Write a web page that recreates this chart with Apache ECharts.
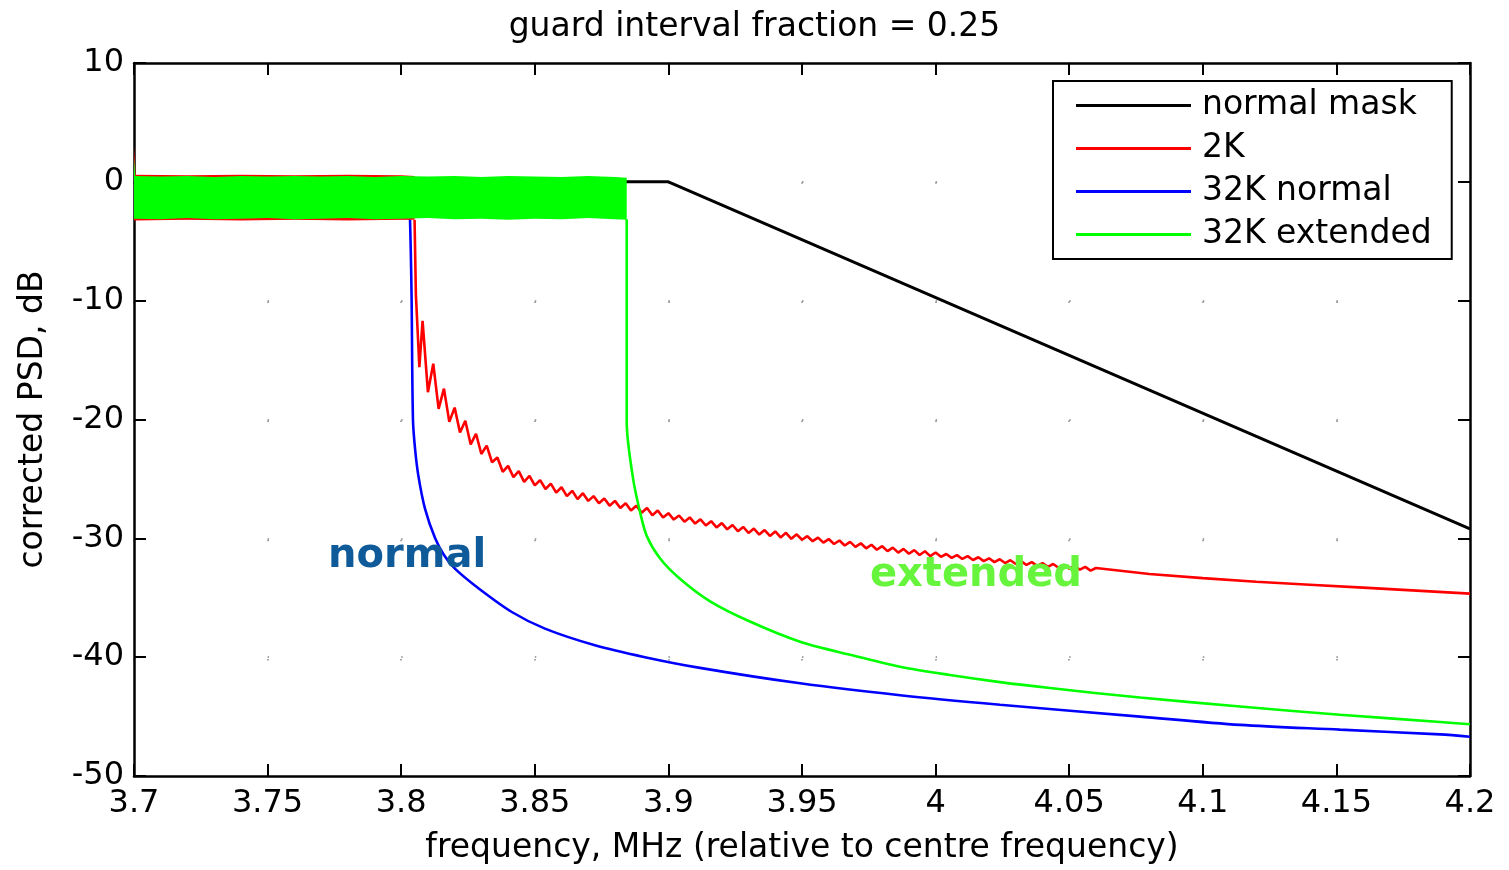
<!DOCTYPE html>
<html>
<head>
<meta charset="utf-8">
<title>guard interval fraction = 0.25</title>
<script src="https://cdn.jsdelivr.net/npm/echarts@6/dist/echarts.min.js"></script>
<style>
  html, body { margin: 0; padding: 0; background: #fff; }
  #chart { width: 1509px; height: 870px; }
</style>
</head>
<body>
<div id="chart"></div>
<script>
// axes
var xMin = 3.7, xMax = 4.2, xStep = 0.05;
var yMin = -50, yMax = 10, yStep = 10;

var seriesNames = ['normal mask', '2K', '32K normal', '32K extended'];
var seriesColors = ['#000000', '#ff0000', '#0000ff', '#00ff00'];

// spectrum mask
var maskLine = [[3.7, 0], [3.9, 0], [4.2, -29.2]];

// passband envelopes (the in-band ripple is too dense to see single cycles)
var greenBandFreq  = [3.7, 3.7005, 3.71, 3.72, 3.73, 3.74, 3.75, 3.76, 3.77, 3.78, 3.79, 3.80, 3.81, 3.82, 3.83, 3.84, 3.85, 3.86, 3.87, 3.88, 3.8844];
var greenBandUpper = [2.0, 0.5, 0.45, 0.5, 0.4, 0.5, 0.45, 0.5, 0.45, 0.5, 0.4, 0.5, 0.45, 0.5, 0.4, 0.5, 0.45, 0.4, 0.5, 0.4, 0.35];
var greenBandLower = [-3.1, -3.1, -3.15, -3.05, -3.15, -3.1, -3.05, -3.15, -3.1, -3.05, -3.15, -3.1, -3.05, -3.15, -3.1, -3.2, -3.1, -3.15, -3.05, -3.15, -3.2];

var redBandFreq  = [3.7, 3.7006, 3.72, 3.74, 3.76, 3.78, 3.80, 3.805];
var redBandUpper = [3.0, 0.6, 0.55, 0.6, 0.55, 0.6, 0.55, 0.5];
var redBandLower = [-3.25, -3.25, -3.2, -3.25, -3.2, -3.25, -3.2, -3.2];

var blueBandFreq  = [3.7, 3.72, 3.74, 3.76, 3.78, 3.80, 3.8033];
var blueBandUpper = [0.45, 0.45, 0.45, 0.45, 0.45, 0.45, 0.45];
var blueBandLower = [-3.15, -3.15, -3.15, -3.15, -3.15, -3.15, -3.15];

// out-of-band roll-off
var redCurve = [
  [3.8050, -3.2], [3.8055, -9.5], [3.8068, -15.6],
  [3.808, -11.7], [3.810, -17.7], [3.812, -15.3], [3.814, -19.1], [3.816, -17.4], [3.818, -20.2],
  [3.820, -19.0], [3.822, -21.1], [3.824, -20.1], [3.826, -22.1], [3.828, -21.2], [3.830, -22.9],
  [3.832, -22.2], [3.834, -23.6], [3.836, -23.2], [3.838, -24.4], [3.840, -23.9], [3.842, -24.85],
  [3.844, -24.35], [3.846, -25.25], [3.848, -24.75], [3.850, -25.55], [3.852, -25.1], [3.854, -25.85],
  [3.856, -25.4], [3.858, -26.15], [3.860, -25.7], [3.862, -26.45], [3.864, -26.0], [3.866, -26.7],
  [3.868, -26.2], [3.870, -26.85], [3.872, -26.45], [3.874, -27.05], [3.876, -26.65], [3.878, -27.25],
  [3.880, -26.85], [3.882, -27.45], [3.884, -27.05], [3.886, -27.65], [3.888, -27.25], [3.890, -27.85],
  [3.892, -27.45], [3.894, -28.05], [3.896, -27.65], [3.898, -28.25], [3.900, -27.88], [3.902, -28.42],
  [3.904, -28.08], [3.906, -28.6], [3.908, -28.24], [3.910, -28.76], [3.912, -28.4], [3.914, -28.92],
  [3.916, -28.56], [3.918, -29.08], [3.920, -28.72], [3.922, -29.24], [3.924, -28.88], [3.926, -29.4],
  [3.928, -29.04], [3.930, -29.55], [3.932, -29.18], [3.934, -29.68], [3.936, -29.3], [3.938, -29.8],
  [3.940, -29.42], [3.942, -29.92], [3.944, -29.54], [3.946, -30.04], [3.948, -29.66], [3.950, -30.12],
  [3.952, -29.82], [3.954, -30.24], [3.956, -29.94], [3.958, -30.36], [3.960, -30.06], [3.962, -30.48],
  [3.964, -30.18], [3.966, -30.6], [3.968, -30.3], [3.970, -30.72], [3.972, -30.42], [3.974, -30.84],
  [3.976, -30.54], [3.978, -30.96], [3.980, -30.66], [3.982, -31.08], [3.984, -30.78], [3.986, -31.2],
  [3.988, -30.89], [3.990, -31.3], [3.992, -30.99], [3.994, -31.4], [3.996, -31.09], [3.998, -31.5],
  [4.000, -31.19], [4.002, -31.555], [4.004, -31.32], [4.006, -31.645], [4.008, -31.41], [4.010, -31.735],
  [4.012, -31.5], [4.014, -31.825], [4.016, -31.59], [4.018, -31.915], [4.020, -31.68], [4.022, -32.0],
  [4.024, -31.76], [4.026, -32.08], [4.028, -31.84], [4.030, -32.16], [4.032, -31.92], [4.034, -32.24],
  [4.036, -32.0], [4.038, -32.32], [4.040, -32.08], [4.042, -32.4], [4.044, -32.16], [4.046, -32.48],
  [4.048, -32.24], [4.050, -32.56], [4.052, -32.32], [4.054, -32.64], [4.056, -32.4], [4.058, -32.72],
  [4.060, -32.5], [4.08, -33.0], [4.10, -33.35],
  [4.12, -33.65], [4.14, -33.9], [4.16, -34.15], [4.18, -34.4], [4.2, -34.65]
];

var blueCurve = [
  [3.8033, -3.15], [3.8036, -6.0], [3.8039, -9.9], [3.8044, -20.0], [3.8052, -22.5], [3.8064, -24.7],
  [3.8089, -27.5], [3.8127, -30.0], [3.8160, -31.4], [3.8201, -32.55], [3.8289, -34.2], [3.8414, -36.2],
  [3.8538, -37.6], [3.8725, -39.0], [3.8912, -40.0], [3.9118, -40.9], [3.9493, -42.2], [3.9867, -43.2],
  [4.0241, -44.0], [4.0765, -45.0], [4.1139, -45.7], [4.1513, -46.1], [4.1888, -46.5], [4.2, -46.7]
];

var greenCurve = [
  [3.8844, -3.15], [3.8844, -20.2], [3.8868, -25.0], [3.8894, -27.8], [3.8919, -29.8], [3.8969, -31.7],
  [3.9043, -33.4], [3.9156, -35.3], [3.9305, -37.0], [3.9493, -38.7], [3.9680, -39.8], [3.9867, -40.8],
  [4.0054, -41.5], [4.0241, -42.1], [4.0428, -42.6], [4.0765, -43.4], [4.1139, -44.15], [4.1513, -44.85],
  [4.1888, -45.45], [4.2, -45.65]
];

// annotation anchors (data coords)
var normalLabelAt = [3.8022, -31.5];
var extendedLabelAt = [4.0151, -33.1];

var FONT = "'DejaVu Sans', sans-serif";

var chart = echarts.init(document.getElementById('chart'));

// filled passband drawn as one polygon through the axes
function bandSeries(name, color, freq, upper, lower, z) {
  return {
    type: 'custom',
    name: name,
    silent: true,
    z: z,
    xAxisIndex: 0,
    yAxisIndex: 0,
    data: freq.map(function (f, i) { return [f, upper[i], lower[i]]; }),
    encode: { x: 0, y: [1, 2] },
    renderItem: function (params, api) {
      if (params.dataIndex !== 0) return null;
      var pts = [];
      for (var i = 0; i < freq.length; i++) pts.push(api.coord([freq[i], upper[i]]));
      for (var j = freq.length - 1; j >= 0; j--) pts.push(api.coord([freq[j], lower[j]]));
      return { type: 'polygon', shape: { points: pts }, style: { fill: color, stroke: null } };
    }
  };
}

function lineSeries(name, color, data, width, z, smooth) {
  return {
    type: 'line',
    name: name,
    data: data,
    z: z,
    symbol: 'none',
    smooth: smooth || false,
    xAxisIndex: 0,
    yAxisIndex: 0,
    color: color,
    lineStyle: { color: color, width: width },
    emphasis: { disabled: true },
    animation: false
  };
}

function annotation(text, color, at) {
  return {
    silent: true,
    z: 20,
    symbol: 'rect',
    symbolSize: 1,
    itemStyle: { color: 'rgba(0,0,0,0)' },
    label: {
      show: true, position: 'inside', formatter: text, color: color,
      fontSize: 40, fontWeight: 'bold', fontFamily: FONT
    },
    data: [{ coord: at }]
  };
}

var blue = lineSeries(seriesNames[2], seriesColors[2], blueCurve, 2.6, 3, 0.3);
blue.markPoint = annotation('normal', '#0f5a98', normalLabelAt);
var green = lineSeries(seriesNames[3], seriesColors[3], greenCurve, 2.6, 7, 0.3);
green.markPoint = annotation('extended', '#66f53c', extendedLabelAt);

var axisLineStyle = { color: '#000', width: 2.5 };
var tickStyle = { show: true, inside: true, length: 12, lineStyle: { color: '#000', width: 2 } };

function xAxis(pos, withLabels) {
  return {
    type: 'value', position: pos, min: xMin, max: xMax, interval: xStep,
    axisLine: { show: true, onZero: false, lineStyle: axisLineStyle },
    axisTick: tickStyle,
    axisLabel: { show: withLabels, color: '#000', fontSize: 32, fontFamily: FONT, margin: 12 },
    splitLine: { show: withLabels, lineStyle: { color: '#888', width: 1.5, type: [1.5, 117.7] } },
    name: withLabels ? 'frequency, MHz (relative to centre frequency)' : '',
    nameLocation: 'middle', nameGap: 56,
    nameTextStyle: { color: '#000', fontSize: 33, fontFamily: FONT }
  };
}

function yAxis(pos, withLabels) {
  return {
    type: 'value', position: pos, min: yMin, max: yMax, interval: yStep,
    axisLine: { show: true, onZero: false, lineStyle: axisLineStyle },
    axisTick: tickStyle,
    axisLabel: { show: withLabels, color: '#000', fontSize: 32, fontFamily: FONT, margin: 10 },
    splitLine: { show: withLabels, lineStyle: { color: '#888', width: 1.5, type: [1.5, 132.1] } },
    name: withLabels ? 'corrected PSD, dB' : '',
    nameLocation: 'middle', nameGap: 84,
    nameTextStyle: { color: '#000', fontSize: 33, fontFamily: FONT }
  };
}

var option = {
  animation: false,
  backgroundColor: '#fff',
  title: {
    text: 'guard interval fraction = 0.25',
    left: 'center', top: 6,
    textStyle: { color: '#000', fontSize: 33, fontWeight: 'normal', fontFamily: FONT }
  },
  grid: { left: 134, right: 39, top: 63, bottom: 92, show: false },
  legend: {
    orient: 'vertical',
    left: 1053, top: 81,
    data: seriesNames,
    icon: 'rect',
    padding: [8, 20, 8, 23],
    itemWidth: 115, itemHeight: 3, itemGap: 10,
    backgroundColor: '#fff', borderColor: '#000', borderWidth: 2, borderRadius: 0,
    selectedMode: false,
    z: 10,
    textStyle: { color: '#000', fontSize: 33, fontFamily: FONT, padding: [0, 0, 0, 6] }
  },
  xAxis: [xAxis('bottom', true), xAxis('top', false)],
  yAxis: [yAxis('left', true), yAxis('right', false)],
  series: [
    lineSeries(seriesNames[0], seriesColors[0], maskLine, 3, 1),
    bandSeries('band 32K normal', seriesColors[2], blueBandFreq, blueBandUpper, blueBandLower, 2),
    blue,
    bandSeries('band 2K', seriesColors[1], redBandFreq, redBandUpper, redBandLower, 4),
    lineSeries(seriesNames[1], seriesColors[1], redCurve, 2.6, 5),
    bandSeries('band 32K extended', seriesColors[3], greenBandFreq, greenBandUpper, greenBandLower, 6),
    green
  ]
};

chart.setOption(option);
</script>
</body>
</html>
